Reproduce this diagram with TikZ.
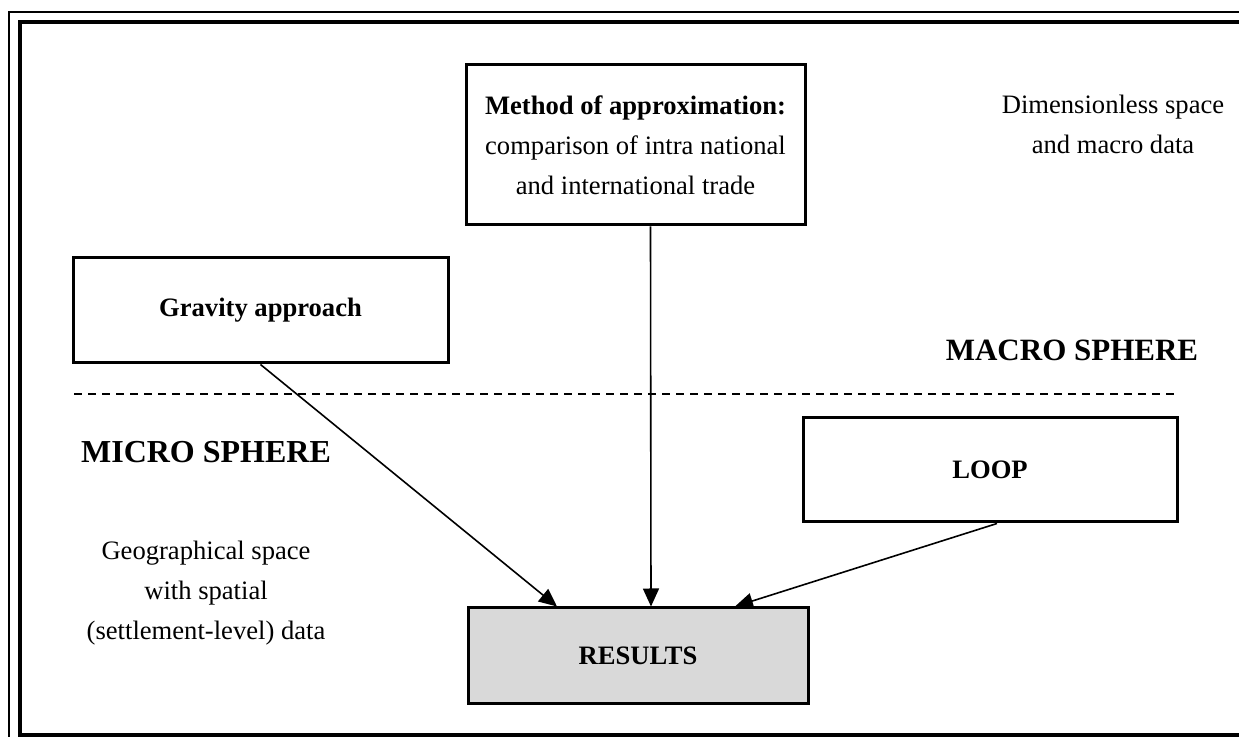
\documentclass[tikz,border=0pt]{standalone}
\usepackage{fontspec}
\setmainfont{Liberation Serif}
\usetikzlibrary{arrows.meta,positioning}

\begin{document}
\begin{tikzpicture}[
    x=0.5pt, y=-0.5pt,
    box/.style={rectangle, draw, line width=1.5pt, inner sep=0pt, align=center, font=\fontsize{13.3}{20}\selectfont},
    arrow/.style={-{Triangle[length=9pt,width=8pt]}, line width=0.8pt},
    sphere/.style={font=\fontsize{16}{19}\selectfont\bfseries},
    note/.style={align=center, font=\fontsize{13.3}{20}\selectfont}
]
\useasboundingbox (0,0) rectangle (1239,737);
\clip (0,0) rectangle (1239,737);

% Frame
\draw[line width=1pt] (9,800) -- (9,12) -- (1300,12);
\draw[line width=2pt] (20,22) rectangle (1300,735);

% Boxes
\node[box, minimum width=169.5pt, minimum height=80pt] (method) at (635.5,145)
    {\textbf{Method of approximation:}\\comparison of intra national\\and international trade};
\node[box, minimum width=187.5pt, minimum height=52.5pt, font=\fontsize{13.3}{20}\selectfont\bfseries] (gravity) at (260.5,310.5) {Gravity approach};
\node[box, minimum width=187pt, minimum height=52pt, font=\fontsize{13.3}{20}\selectfont\bfseries] (loop) at (990,470) {LOOP};
\node[box, minimum width=170pt, minimum height=48pt, fill=black!15, font=\fontsize{13.3}{20}\selectfont\bfseries] (results) at (638,656) {RESULTS};

% Sphere labels and notes
\node[note] (dimless) at (1113,124) {Dimensionless space\\and macro data};
\node[sphere, font=\fontsize{15.5}{19}\selectfont\bfseries] (macro) at (1072,350) {MACRO SPHERE};
\node[sphere] (micro) at (206,452) {MICRO SPHERE};
\node[note] (geo) at (206,593) {Geographical space\\with spatial\\(settlement-level) data};

% Divider
\coordinate (divL) at (74,394);
\coordinate (divR) at (1175,394);
\draw[line width=1pt, dash pattern=on 4pt off 3pt] (divL) -- (divR);

% Arrows
\draw[arrow] (gravity.south) -- ([xshift=-40.5pt]results.north);
\draw[arrow] ([xshift=7.5pt]method.south) -- ([xshift=6.5pt]results.north);
\draw[arrow] ([xshift=3.5pt]loop.south) -- ([xshift=48.5pt]results.north);

\end{tikzpicture}
\end{document}
